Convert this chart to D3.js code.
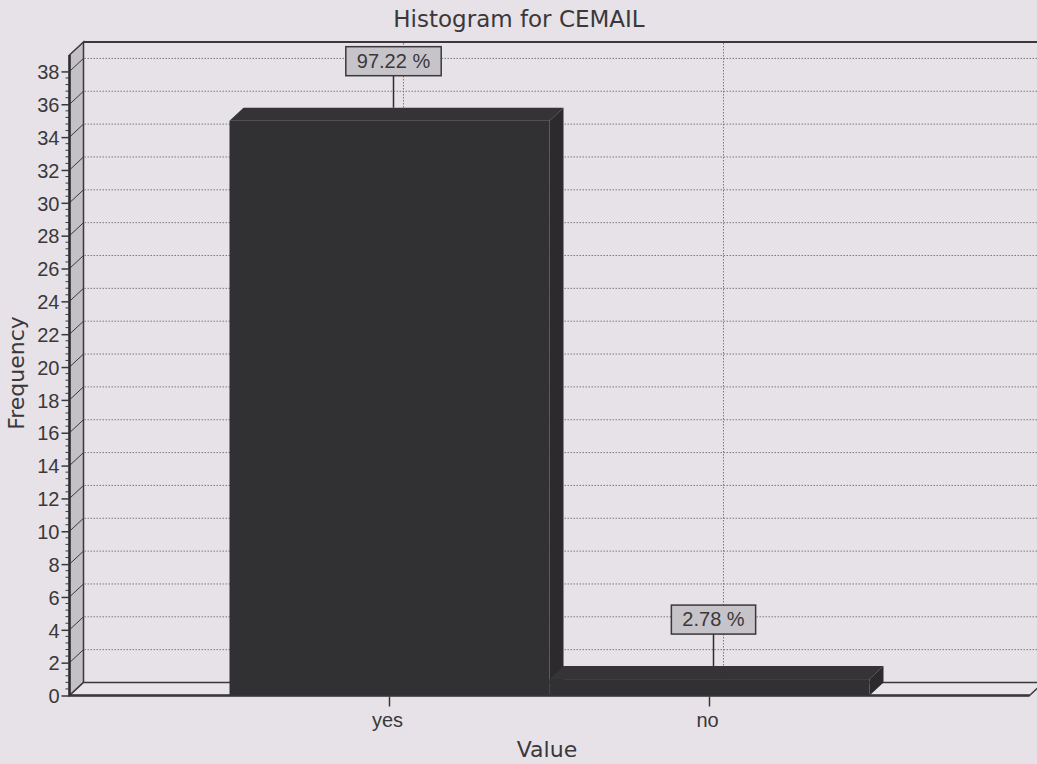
<!DOCTYPE html>
<html lang="en">
<head>
    <meta charset="UTF-8">
    <title>Histogram for CEMAIL</title>
    <style>
        body {
            margin: 0;
            background: #e6e2e7;
        }

        .title, .axis-title {
            font-family: "DejaVu Sans", Verdana, sans-serif;
            fill: #3a383b;
        }

        .tick-label, .pct-label {
            font-family: "Liberation Sans", Arial, sans-serif;
            fill: #3a383b;
        }

        .grid {
            stroke: #7a7880;
            stroke-width: 1;
            stroke-dasharray: 1.5 1.5;
        }
    </style>
</head>
<body>
<svg id="chart" width="1037" height="764"></svg>
<script src="https://cdn.jsdelivr.net/npm/d3@7"></script>
<script>
    // data
    const categories = ["yes", "no"];
    const counts = [35, 1];
    const yTicks = d3.range(0, 39, 2);

    const W = 1037, H = 764;
    const dx = 14, dy = -13;   // 3d depth offset
    const left = 69.5, right = 1029.5, bottom = 695.5;

    let svg = d3.select("#chart");

    // x: categories sit at 1, 2 on a 0..3 axis, bars are one unit wide
    let x = d3.scaleLinear().domain([0, 3]).range([left, right]);
    let y = d3.scaleLinear().domain([0, 39]).range([bottom, 55]);

    let total = d3.sum(counts);

    // title
    svg.append("text")
        .attr("class", "title")
        .attr("x", 519)
        .attr("y", 27)
        .attr("text-anchor", "middle")
        .attr("font-size", 23)
        .text("Histogram for CEMAIL");

    let g = svg.append("g");

    // back wall top line
    g.append("line")
        .attr("x1", left + dx).attr("x2", W)
        .attr("y1", y(39) + dy).attr("y2", y(39) + dy)
        .attr("stroke", "#3a383b").attr("stroke-width", 2);

    // left side wall
    g.append("path")
        .attr("d", d3.line()([
            [left, bottom], [left, y(39)], [left + dx, y(39) + dy], [left + dx, bottom + dy]
        ]) + "Z")
        .attr("fill", "#c3c1c6")
        .attr("stroke", "#3a383b")
        .attr("stroke-width", 1.5);

    // horizontal grid on back wall + diagonal on side wall
    yTicks.filter(d => d > 0).forEach(function (d) {
        g.append("line")
            .attr("class", "grid")
            .attr("x1", left + dx + 1).attr("x2", W)
            .attr("y1", y(d) + dy).attr("y2", y(d) + dy);
        g.append("line")
            .attr("x1", left).attr("x2", left + dx)
            .attr("y1", y(d)).attr("y2", y(d) + dy)
            .attr("stroke", "#3a383b").attr("stroke-width", 1);
    });

    // vertical grid at categories
    categories.forEach(function (c, i) {
        g.append("line")
            .attr("class", "grid")
            .attr("x1", x(i + 1) + dx).attr("x2", x(i + 1) + dx)
            .attr("y1", y(39) + dy + 1).attr("y2", bottom + dy);
    });

    // floor
    g.append("path")
        .attr("d", d3.line()([
            [left, bottom], [right, bottom], [right + dx, bottom + dy], [left + dx, bottom + dy]
        ]) + "Z")
        .attr("fill", "#e8e5ea")
        .attr("stroke", "#3a383b")
        .attr("stroke-width", 1.5);
    g.append("line")
        .attr("x1", left).attr("x2", right)
        .attr("y1", bottom).attr("y2", bottom)
        .attr("stroke", "#3a383b").attr("stroke-width", 2.5);

    // front y axis line
    g.append("line")
        .attr("x1", left).attr("x2", left)
        .attr("y1", bottom).attr("y2", y(39))
        .attr("stroke", "#2e2c2f").attr("stroke-width", 2.5);

    // y ticks
    let yAxis = d3.axisLeft(y)
        .tickValues(yTicks)
        .tickSize(8)
        .tickPadding(2)
        .tickFormat(d3.format("d"));
    let ya = svg.append("g")
        .attr("transform", "translate(" + left + ",0)")
        .call(yAxis);
    ya.select(".domain").remove();
    ya.selectAll(".tick line").attr("stroke", "#3a383b").attr("stroke-width", 1.5);
    ya.selectAll(".tick text")
        .attr("class", "tick-label")
        .attr("font-size", 20)
        .attr("fill", "#3a383b")
        .attr("dy", "0.36em");

    // minor ticks
    let minor = d3.range(0, 38.01, 0.4).filter(d => Math.abs(d / 2 - Math.round(d / 2)) > 0.01);
    svg.append("g").selectAll("line")
        .data(minor)
        .enter()
        .append("line")
        .attr("x1", left - 4).attr("x2", left)
        .attr("y1", d => y(d)).attr("y2", d => y(d))
        .attr("stroke", "#3a383b").attr("stroke-width", 1);

    // bars
    let bars = svg.append("g").selectAll("g")
        .data(counts)
        .enter()
        .append("g");

    bars.each(function (d, i) {
        let b = d3.select(this);
        let x0 = x(i + 0.5), x1 = x(i + 1.5), yt = y(d);
        // top face
        b.append("path")
            .attr("d", d3.line()([[x0, yt], [x0 + dx, yt + dy], [x1 + dx, yt + dy], [x1, yt]]) + "Z")
            .attr("fill", "#353336");
        // side face
        b.append("path")
            .attr("d", d3.line()([[x1, yt], [x1 + dx, yt + dy], [x1 + dx, bottom + dy], [x1, bottom]]) + "Z")
            .attr("fill", "#2c2a2d");
        // front face
        b.append("rect")
            .attr("x", x0).attr("y", yt)
            .attr("width", x1 - x0).attr("height", bottom - yt)
            .attr("fill", "#313032");
    });

    // percent labels
    let labels = svg.append("g").selectAll("g")
        .data(counts)
        .enter()
        .append("g");

    labels.each(function (d, i) {
        let l = d3.select(this);
        let cx = x(i + 1) + 4;
        let yb = y(d) - 45;
        let txt = (d / total * 100).toFixed(2) + " %";
        l.append("line")
            .attr("x1", cx).attr("x2", cx)
            .attr("y1", yb).attr("y2", y(d) + dy)
            .attr("stroke", "#2e2c2f").attr("stroke-width", 1.5);
        let t = l.append("text")
            .attr("class", "pct-label")
            .attr("x", cx)
            .attr("y", yb - 8)
            .attr("text-anchor", "middle")
            .attr("font-size", 20)
            .text(txt);
        let w = t.node().getComputedTextLength() + 22;
        l.insert("rect", "text")
            .attr("x", cx - w / 2).attr("y", yb - 29)
            .attr("width", w).attr("height", 29)
            .attr("fill", "#c6c4c9")
            .attr("stroke", "#3a383b").attr("stroke-width", 1.5);
    });

    // x category ticks and labels
    categories.forEach(function (c, i) {
        svg.append("line")
            .attr("x1", x(i + 1)).attr("x2", x(i + 1))
            .attr("y1", bottom + 1).attr("y2", bottom + 11)
            .attr("stroke", "#3a383b").attr("stroke-width", 1.5);
        svg.append("text")
            .attr("class", "tick-label")
            .attr("x", x(i + 1) - 2)
            .attr("y", 727)
            .attr("text-anchor", "middle")
            .attr("font-size", 20)
            .text(c);
    });

    // axis titles
    svg.append("text")
        .attr("class", "axis-title")
        .attr("x", 547)
        .attr("y", 757)
        .attr("text-anchor", "middle")
        .attr("font-size", 22)
        .text("Value");

    svg.append("text")
        .attr("class", "axis-title")
        .attr("transform", "translate(24,373) rotate(-90)")
        .attr("text-anchor", "middle")
        .attr("font-size", 22)
        .text("Frequency");
</script>
</body>
</html>
